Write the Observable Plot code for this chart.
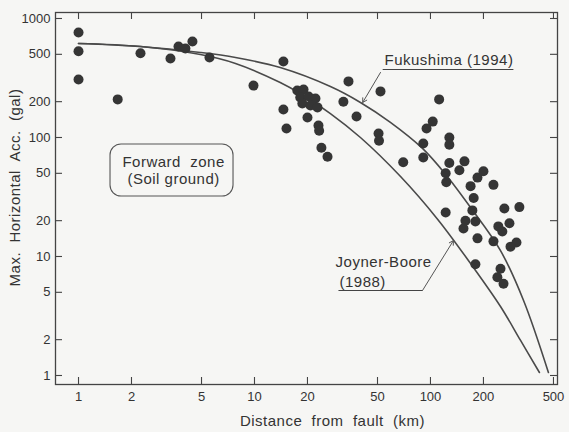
<!DOCTYPE html>
<html><head><meta charset="utf-8">
<script src="https://cdn.jsdelivr.net/npm/d3@7"></script>
<script src="https://cdn.jsdelivr.net/npm/@observablehq/plot@0.6"></script>
<style>
html,body{margin:0;padding:0;background:#f6f6f4;}
#chart svg{display:block;}
#chart svg text{white-space:pre;}
</style></head><body><div id="chart"></div>
<script>
// Observed records: distance from fault (km) and max. horizontal acceleration (gal)
const distKm = [1, 1, 1, 1.67, 2.25, 3.33, 3.7, 4.05, 4.44, 5.55,
  9.87, 14.6, 14.6, 15.2,
  17.5, 19.0, 18.2, 20.3, 22.2, 18.7, 20.8, 22.8, 20.0,
  23.1, 23.3, 24, 26,
  34.2, 32, 38, 52, 50.7, 51,
  112, 103, 95, 91, 91, 70,
  128, 128, 128, 156, 146, 122, 123,
  200, 185, 169, 228, 176,
  122, 173, 263, 320,
  158, 180, 154, 243, 281, 256,
  185, 228, 308, 285,
  180, 250, 240, 260];
const accGal = [763, 531, 307, 209, 510, 461, 582, 560, 641, 470,
  273, 435, 172, 119,
  248, 253, 217, 221, 213, 193, 186, 179, 147,
  126, 114, 82, 69,
  296, 200, 150, 244, 108, 94,
  209, 136, 119, 89, 68, 62,
  100, 87, 61, 63, 53, 50, 42,
  52, 46, 39, 40, 31,
  23.4, 24.4, 25.3, 26,
  20, 19.7, 17.2, 17.9, 19, 16.2,
  14.2, 13.4, 13.1, 12.1,
  8.6, 7.9, 6.7, 5.9];

// Attenuation curves
const fukuDist = [1, 2.25, 4.93, 7.8, 14.0, 27.0, 40.0, 59.2, 90.1, 122, 169, 250, 338, 468];
const fukuAcc  = [617, 582, 518, 470, 387, 268, 197, 134, 80.9, 48.9, 25.8, 11.2, 4.27, 1.06];
const jbDist = [1, 2.25, 4.93, 7.8, 14.0, 18.2, 27.0, 40.0, 67.6, 110, 169, 250, 325, 416];
const jbAcc  = [617, 582, 498, 419, 290, 234, 159, 100, 47.0, 20.5, 8.73, 3.80, 1.97, 1.06];

// Tick values
const xTicks = [1, 2, 5, 10, 20, 50, 100, 200, 500];
const yTicks = [1, 2, 5, 10, 20, 50, 100, 200, 500, 1000];

// Axis titles and annotation texts
const xTitle = "Distance  from  fault  (km)";
const yTitle = "Max.  Horizontal  Acc.  (gal)";
const noteText = ["Fukushima (1994)", "Joyner-Boore", "(1988)"];
const noteX = [54.8, 28.9, 30.4];
const noteY = [444, 8.9, 6.04];
const underX1 = [53.5, 30.0], underX2 = [296, 90.1], underY = [373, 5.18];
const arrowX1 = [52, 90.1], arrowY1 = [352, 5.18], arrowX2 = [41.2, 135], arrowY2 = [197, 13.6];
const boxText = ["Forward  zone\n(Soil ground)"];
const boxX = [3.47], boxY = [53.3];
const boxX1 = [1.52], boxX2 = [7.6], boxY1 = [31.9], boxY2 = [87.3];

const W = 569, H = 432, mL = 55, mR = 12, mT = 12, mB = 48;
const plotW = W - mL - mR, plotH = H - mT - mB;
const ink = "#333";
const tickLen = 7;

const points = distKm.map((d, i) => ({d, a: accGal[i]}));
const fuku = fukuDist.map((d, i) => ({d, a: fukuAcc[i]}));
const jb = jbDist.map((d, i) => ({d, a: jbAcc[i]}));
const idx2 = [0, 1];
const idx3 = [0, 1, 2];

const chart = Plot.plot({
  width: W, height: H,
  marginLeft: mL, marginRight: mR, marginTop: mT, marginBottom: mB,
  style: {fontFamily: "'Liberation Sans', Arial, sans-serif", fontSize: "13px", background: "#f6f6f4", color: ink},
  x: {type: "log", domain: [0.74, 527], axis: null},
  y: {type: "log", domain: [0.84, 1123], axis: null},
  marks: [
    // tick labels through the scales
    Plot.text(xTicks, {x: d => d, text: d => String(d), frameAnchor: "bottom", lineAnchor: "top", dy: 7, fontSize: 13, fill: ink}),
    Plot.text(yTicks, {y: d => d, text: d => String(d), frameAnchor: "left", textAnchor: "end", lineAnchor: "middle", dx: -5, fontSize: 13, fill: ink}),
    Plot.frame({stroke: "#444", strokeWidth: 1.3}),
    // inward ticks on all four sides
    Plot.tickX(xTicks, {x: d => d, insetTop: plotH - tickLen, stroke: "#444", strokeWidth: 1.1}),
    Plot.tickX(xTicks, {x: d => d, insetBottom: plotH - tickLen, stroke: "#444", strokeWidth: 1.1}),
    Plot.tickY(yTicks, {y: d => d, insetRight: plotW - tickLen, stroke: "#444", strokeWidth: 1.1}),
    Plot.tickY(yTicks, {y: d => d, insetLeft: plotW - tickLen, stroke: "#444", strokeWidth: 1.1}),
    // curves
    Plot.line(fuku, {x: "d", y: "a", curve: "catmull-rom", stroke: "#4a4a4a", strokeWidth: 1.6}),
    Plot.line(jb, {x: "d", y: "a", curve: "catmull-rom", stroke: "#4a4a4a", strokeWidth: 1.6}),
    // data points
    Plot.dot(points, {x: "d", y: "a", r: 5, fill: "#353535", stroke: null}),
    // box annotation
    Plot.rect([0], {x1: i => boxX1[i], x2: i => boxX2[i], y1: i => boxY1[i], y2: i => boxY2[i], rx: 11, fill: "none", stroke: "#555", strokeWidth: 1.1}),
    Plot.text([0], {x: i => boxX[i], y: i => boxY[i], text: i => boxText[i], fontSize: 15, lineHeight: 1.13, fill: ink}),
    // curve labels
    Plot.text(idx3, {x: i => noteX[i], y: i => noteY[i], text: i => noteText[i], textAnchor: "start", fontSize: 15, fill: ink}),
    Plot.link(idx2, {x1: i => underX1[i], x2: i => underX2[i], y1: i => underY[i], y2: i => underY[i], stroke: "#444", strokeWidth: 1.1}),
    Plot.arrow(idx2, {x1: i => arrowX1[i], y1: i => arrowY1[i], x2: i => arrowX2[i], y2: i => arrowY2[i], stroke: "#555", strokeWidth: 1, headLength: 7}),
    // axis titles
    Plot.text([xTitle], {frameAnchor: "bottom", text: d => d, textAnchor: "middle", lineAnchor: "middle", dx: 26, dy: 37, fontSize: 15, fill: ink}),
    Plot.text([yTitle], {frameAnchor: "left", text: d => d, textAnchor: "middle", lineAnchor: "middle", rotate: -90, dx: -40, dy: -11, fontSize: 15, fill: ink})
  ]
});
document.getElementById("chart").appendChild(chart);
d3.select(chart).selectAll('g[aria-label="text"]').filter((d, i) => i >= 2).selectAll("text").style("letter-spacing", "0.5px");
</script></body></html>
